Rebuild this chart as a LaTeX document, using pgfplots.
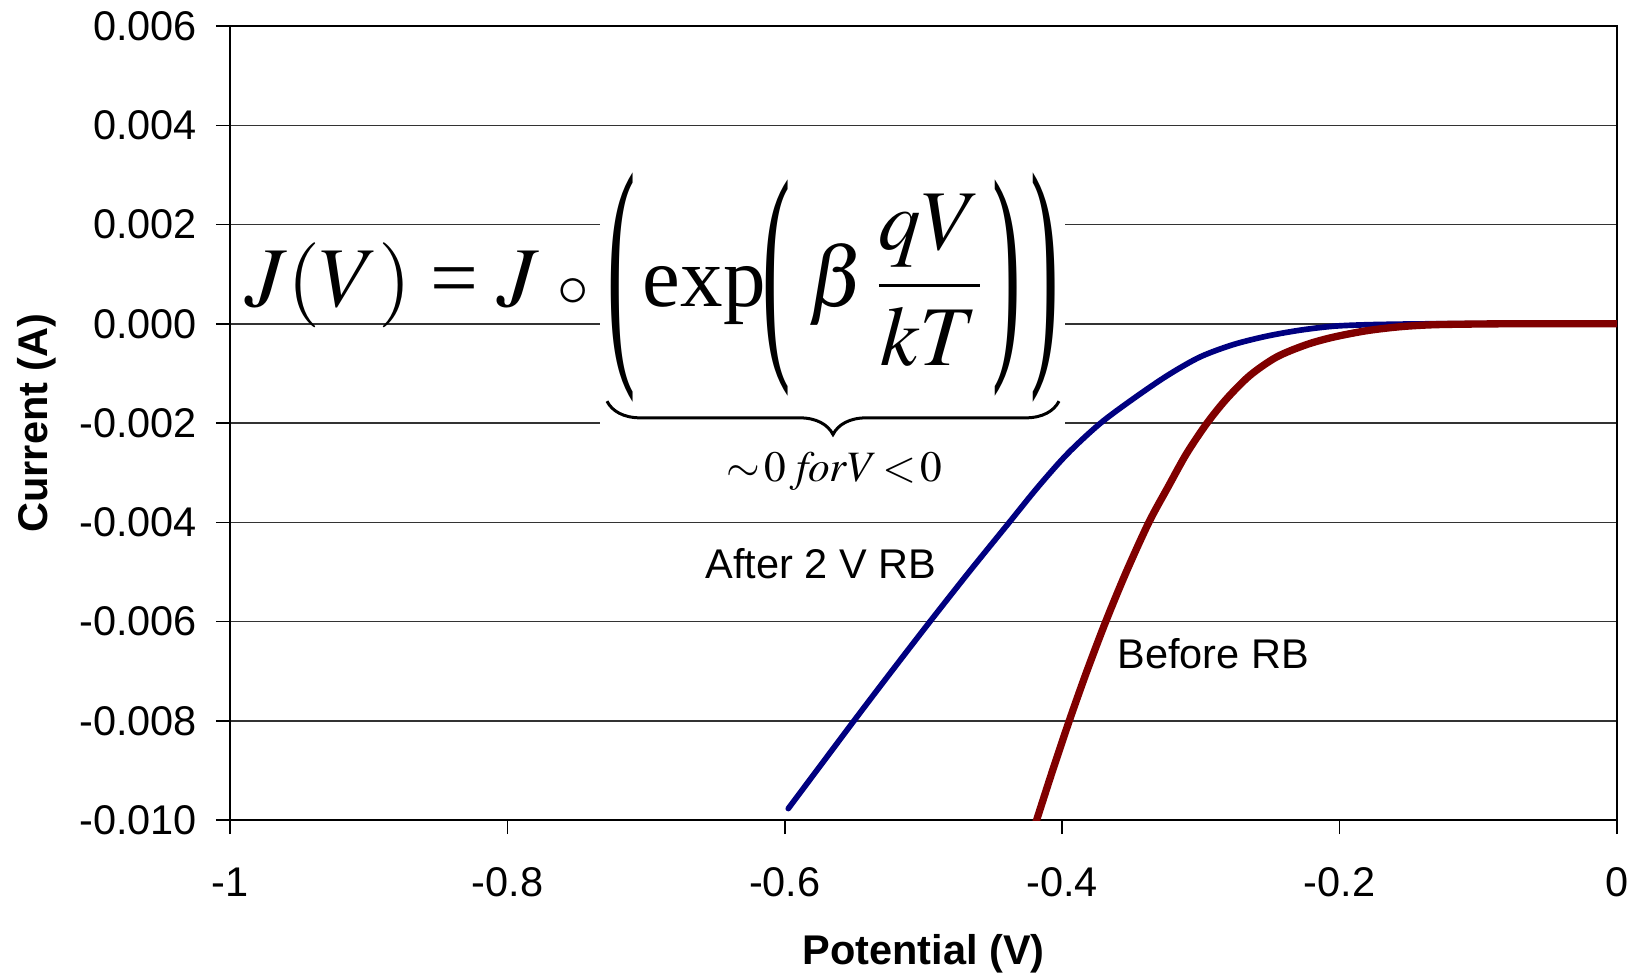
\documentclass[border=0pt]{standalone}
\usepackage{mathptmx}
\usepackage[no-math]{fontspec}
\setmainfont{Liberation Sans}
\newfontfamily\tnr{Liberation Serif}
\usepackage{graphicx}
\usepackage{pgfplots}
\pgfplotsset{compat=1.18}
\usetikzlibrary{decorations.pathreplacing}
\definecolor{navyc}{RGB}{0,0,128}
\definecolor{maroonc}{RGB}{128,0,0}
\newcommand{\tallp}[3]{\raisebox{#2}{\scalebox{1}[#1]{#3}}}
\begin{document}
\begin{tikzpicture}
\useasboundingbox (-69pt,-46.2pt) rectangle (420.9pt,246pt);
\begin{axis}[
  at={(0,0)}, anchor=south west,
  width=416.1pt, height=238.2pt, scale only axis,
  xmin=-1, xmax=0, ymin=-0.010, ymax=0.006,
  xtick={-1,-0.8,-0.6,-0.4,-0.2,0},
  xticklabels={-1,-0.8,-0.6,-0.4,-0.2,0},
  ytick={-0.010,-0.008,-0.006,-0.004,-0.002,0,0.002,0.004,0.006},
  yticklabels={-0.010,-0.008,-0.006,-0.004,-0.002,0.000,0.002,0.004,0.006},
  scaled ticks=false,
  ymajorgrids,
  grid style={black!80, line width=0.45pt},
  tick align=outside, major tick length=4.2pt,
  tick style={black, line width=0.45pt},
  xtick pos=bottom, ytick pos=left,
  axis line style={black, line width=0.6pt},
  ticklabel style={font=\fontsize{12.45}{15}\selectfont, inner sep=0pt},
  yticklabel style={xshift=-5.5pt},
  xticklabel style={yshift=-9.9pt},
  xlabel={\bfseries Potential (V)},
  ylabel={\bfseries Current (A)},
  label style={font=\fontsize{12.45}{15}\selectfont, inner sep=0pt},
  xlabel style={at={(axis description cs:0.5,-0.1816)}, anchor=base},
  ylabel style={at={(axis description cs:-0.1319,0.5)}, anchor=base},
]
\fill[white] (axis cs:-0.7332,0.00320) rectangle (axis cs:-0.398,-0.00229);
\node[anchor=base west, inner sep=0pt, font=\fontsize{25.5}{30}\selectfont]
  at (axis cs:-0.9894,0.000339) {$J(V)\mathrel{\hbox{\tnr =}}J\;\mathbin{\scriptstyle\circ}$};
\node[anchor=base west, inner sep=0pt, font=\tnr\fontsize{25.5}{30}\selectfont]
  at (axis cs:-0.7282,0.000339)
  {\tallp{2.98}{-0.488em}{(}\hspace{0.08em}exp\hspace{-0.03em}\tallp{2.81}{-0.448em}{(}\hspace{0.2em}$\beta\,\displaystyle\frac{qV}{kT}$\hspace{0.1em}\tallp{2.81}{-0.448em}{)}\hspace{0.12em}\tallp{2.98}{-0.488em}{)}};
\draw[line width=0.9pt, decorate, decoration={brace, mirror, amplitude=10pt}]
  (axis cs:-0.7282,-0.00156) -- (axis cs:-0.4023,-0.00156);
\node[anchor=base, inner sep=0pt, font=\fontsize{13}{16}\selectfont]
  at (axis cs:-0.5642,-0.003175) {$\sim\!0\;\mathit{for}V\!<\!0$};
\node[anchor=base west, inner sep=0pt, font=\fontsize{12.45}{15}\selectfont]
  at (axis cs:-0.6575,-0.00513) {After 2 V RB};
\node[anchor=base west, inner sep=0pt, font=\fontsize{12.45}{15}\selectfont]
  at (axis cs:-0.3607,-0.00695) {Before RB};
\addplot[navyc, line width=1.7pt, line cap=round, smooth] coordinates {
(-0.5975,-0.00977) (-0.5501,-0.0080) (-0.5229,-0.0070) (-0.4953,-0.0060)
(-0.4671,-0.0050) (-0.4381,-0.0040) (-0.4175,-0.00329) (-0.3962,-0.00262)
(-0.3727,-0.00201) (-0.3487,-0.00151) (-0.3240,-0.00104) (-0.3007,-0.00067)
(-0.2767,-0.00042) (-0.2526,-0.00025) (-0.2286,-0.00013) (-0.2045,-0.00005)
(-0.1805,-0.00002) (-0.15,-0.000005) (-0.12,0) (0,0)
};
\addplot[maroonc, line width=2.2pt, smooth] coordinates {
(-0.4190,-0.01005) (-0.4069,-0.0090) (-0.3949,-0.0080) (-0.3822,-0.0070)
(-0.3686,-0.0060) (-0.3538,-0.0050) (-0.3375,-0.0040) (-0.3237,-0.00329)
(-0.3104,-0.00262) (-0.2958,-0.00201) (-0.2814,-0.00151) (-0.2646,-0.00104)
(-0.2454,-0.00067) (-0.2238,-0.00042) (-0.2045,-0.00027) (-0.1805,-0.00014)
(-0.1564,-0.00006) (-0.1324,-0.00002) (-0.10,-0.000005) (-0.07,0) (0,0)
};
\end{axis}
\end{tikzpicture}
\end{document}
